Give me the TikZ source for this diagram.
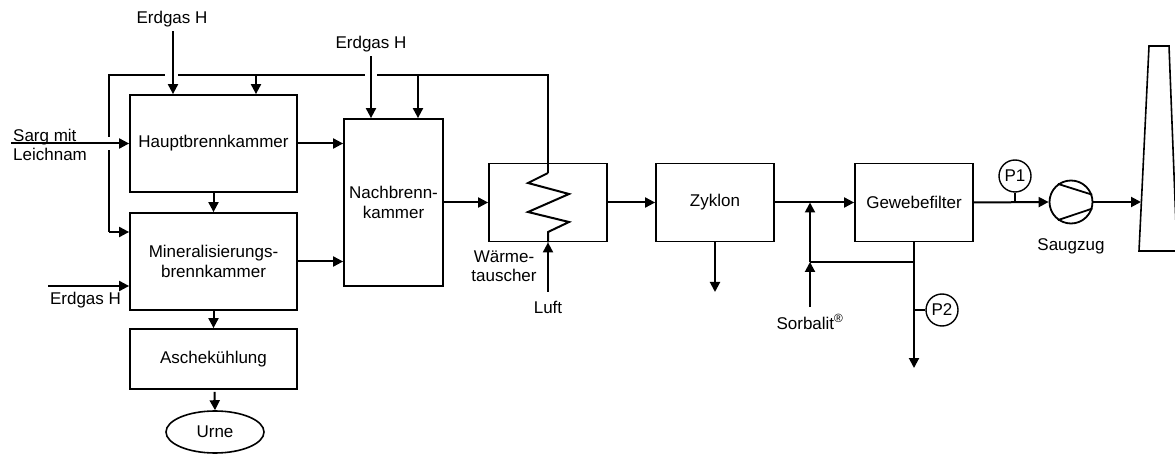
\documentclass[tikz,border=0pt]{standalone}
\usepackage{fontspec}
\setmainfont{Liberation Sans}
\usetikzlibrary{arrows.meta,shapes.geometric}
\begin{document}
\begin{tikzpicture}[x=1pt,y=-1pt,
  every node/.style={font=\fontsize{17}{19.5}\selectfont},
  ln/.style={line width=2pt},
  arr/.style={line width=2pt,-{Triangle[length=10pt,width=10pt]}},
  box/.style={draw,line width=1.8pt,rectangle,inner sep=0pt,align=center},
  lbl/.style={inner sep=0pt,align=center},
  pin/.style={draw,circle,line width=1.4pt,inner sep=0pt,minimum size=32pt}]
\useasboundingbox (0,0) rectangle (1175,454);
\clip (0,0) rectangle (1175,454);
% boxes
\node[box,minimum width=167pt,minimum height=97pt] (haupt) at (213.5,143.5) {Hauptbrennkammer};
\node[box,minimum width=167pt,minimum height=97pt] (miner) at (213.5,261.5) {Mineralisierungs-\\brennkammer};
\node[box,minimum width=167pt,minimum height=60pt] (asche) at (213.5,359) {Aschekühlung};
\node[draw,ellipse,line width=1.6pt,inner sep=0pt,minimum width=98pt,minimum height=42pt] (urne) at (215,432) {Urne};
\node[box,minimum width=99pt,minimum height=167pt] (nach) at (393.5,202.5) {Nachbrenn-\\kammer};
\node[box,minimum width=118pt,minimum height=78pt] (hx) at (548,202.5) {};
\node[box,minimum width=118pt,minimum height=78pt] (zyk) at (715,202.5) {Zyklon};
\node[box,minimum width=118pt,minimum height=78pt] (gew) at (914,202.5) {Gewebefilter};
\node[pin] (p1) at (1015,176) {P1};
\node[pin] (p2) at (942,310) {P2};
\node[draw,circle,line width=1.8pt,inner sep=0pt,minimum size=43pt] (fan) at (1071,202) {};
% labels
\node[lbl] (eg1) at (172,19) {Erdgas H};
\node[lbl] (eg2) at (371,44) {Erdgas H};
\node[lbl] (eg3) at (85.5,300) {Erdgas H};
\node[lbl,align=left,anchor=west] (sarg) at (13,145) {Sarg mit\\Leichnam};
\node[lbl] (waerme) at (504,266) {Wärme-\\tauscher};
\node[lbl] (luft) at (548,307) {Luft};
\node[lbl] (sorb) at (810,322) {Sorbalit\textsuperscript{®}};
\node[lbl] (saug) at (1071,246) {Saugzug};
% coordinates
\coordinate (tl) at (109,75);
\coordinate (tr) at (548,75);
\coordinate (lb) at (109,232);
\coordinate (z0) at (548,173);
\coordinate (z6) at (548,232);
\coordinate (j1) at (256,75);
\coordinate (j2) at (418,75);
\coordinate (sargin) at (11,143.5);
\coordinate (eg3in) at (48,286);
\coordinate (luftin) at (548,292);
\coordinate (zykout) at (715,292);
\coordinate (sorbin) at (810,307);
\coordinate (mix) at (810,262);
\coordinate (rec) at (914,262);
\coordinate (gewout) at (914,368);
\coordinate (p2j) at (914,310);
\coordinate (chim) at (1141,202);
% air loop through heat exchanger
\draw[ln] (z0) -- (tr) -- (tl) -- (lb);
\draw[arr] (lb) -- (lb -| miner.west);
\draw[ln] (z0) -- (528,183) -- (569,194) -- (528,212) -- (569,222) -- (z6) -- (hx.south);
\draw[arr] (j1) -- (j1 |- haupt.north);
\draw[arr] (j2) -- (j2 |- nach.north);
\draw[arr] (luftin) -- (hx.south);
% line bridges
\fill[white] (165,71) rectangle (178,79);
\fill[white] (365,71) rectangle (377,79);
\fill[white] (105,137) rectangle (113,150);
% gas and feed
\draw[arr] (eg1.south -| 173,0) ++(0,4) -- (173,0 |- haupt.north);
\draw[arr] (eg2.south -| 371,0) ++(0,4) -- (371,0 |- nach.north);
\draw[arr] (eg3in) -- (eg3in -| miner.west);
\draw[arr] (sargin) -- (haupt.west);
% main flow
\draw[arr] (haupt.south) -- (miner.north);
\draw[arr] (miner.south) -- (asche.north);
\draw[arr] (asche.south) ++(1,2) -- (urne.north);
\draw[arr] (haupt.east) -- (haupt.east -| nach.west);
\draw[arr] (miner.east) -- (miner.east -| nach.west);
\draw[arr] (nach.east) -- (hx.west);
\draw[arr] (hx.east) -- (zyk.west);
\draw[arr] (zyk.south) -- (zykout);
\draw[arr] (zyk.east) -- (gew.west);
\draw[arr] (sorbin) -- (mix);
\draw[arr] (mix) -- (mix |- zyk.east);
\draw[ln] (gew.south) -- (rec) -- (mix);
\draw[arr] (gew.south) -- (gewout);
\draw[line width=1.4pt] (p2j) -- (p2.west);
\draw[arr] (gew.east) -- (fan.west);
\draw[line width=1.4pt] (p1.south) -- (p1.south |- gew.east);
\draw[line width=1.8pt] (fan.126) -- (fan.19);
\draw[line width=1.8pt] (fan.234) -- (fan.-17);
\draw[arr] (fan.east) -- (chim);
% chimney
\draw[line width=1.6pt] (1149,46) -- (1169,46) -- (1177,251) -- (1139,251) -- cycle;
\end{tikzpicture}
\end{document}
